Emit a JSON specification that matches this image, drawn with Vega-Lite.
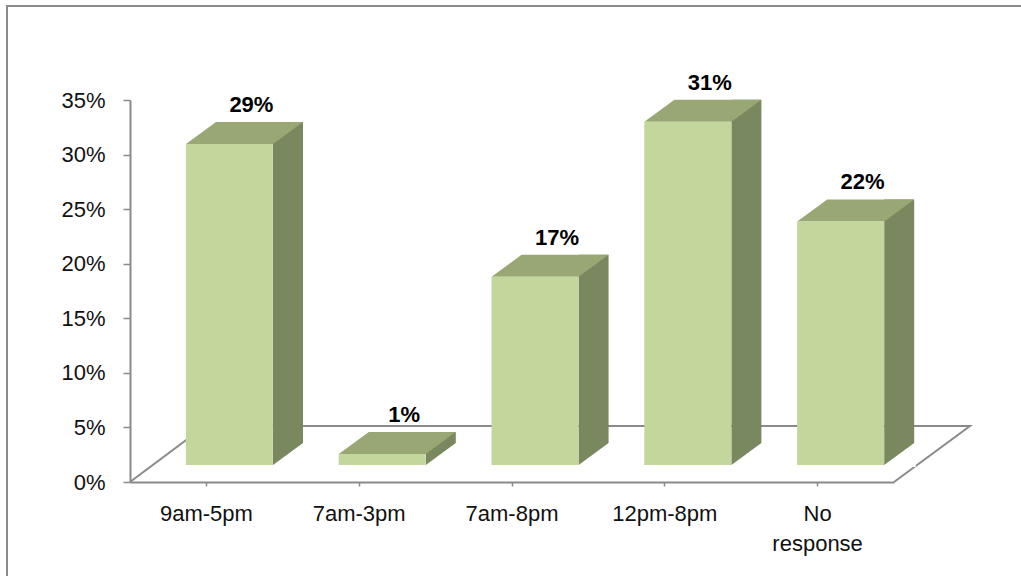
{
  "$schema": "https://vega.github.io/schema/vega-lite/v6.json",
  "width": 1021,
  "height": 576,
  "autosize": {"type": "none"},
  "padding": 0,
  "background": "white",
  "config": {
    "view": {"stroke": null},
    "font": "Liberation Sans"
  },
  "data": {
    "values": [
      {"slot": "9am-5pm", "share": 0.29},
      {"slot": "7am-3pm", "share": 0.01},
      {"slot": "7am-8pm", "share": 0.17},
      {"slot": "12pm-8pm", "share": 0.31},
      {"slot": "No response", "share": 0.22}
    ]
  },
  "encoding": {
    "x": {
      "field": "slot",
      "type": "nominal",
      "sort": null,
      "scale": {
        "domain": ["9am-5pm", "7am-3pm", "7am-8pm", "12pm-8pm", "No response"],
        "range": [130, 894],
        "paddingInner": 0.43,
        "paddingOuter": 0.215
      },
      "axis": {
        "title": null,
        "orient": "bottom",
        "offset": -94,
        "grid": false,
        "domainColor": "#8a8a8a",
        "domainWidth": 2,
        "tickColor": "#8a8a8a",
        "tickWidth": 1.5,
        "tickSize": 4,
        "bandPosition": 0.5,
        "labelAngle": 0,
        "labelFont": "Liberation Sans",
        "labelFontSize": 22,
        "labelColor": "#111111",
        "labelPadding": 17,
        "labelLineHeight": 30,
        "labelExpr": "datum.label === 'No response' ? ['No', 'response'] : datum.label"
      }
    }
  },
  "layer": [
    {
      "transform": [{"filter": "datum.slot === '9am-5pm'"}],
      "mark": {
        "type": "point",
        "shape": "M-199.4,100L-199.4,-476L820,-476M-76.4,0L-1.4,-56L763.6,-56L687.6,0",
        "size": 4,
        "filled": false,
        "stroke": "#8a8a8a",
        "strokeWidth": 2,
        "opacity": 1
      },
      "encoding": {
        "y": {
          "datum": 0,
          "type": "quantitative",
          "scale": {"domain": [0, 0.35], "range": [482, 100], "nice": false},
          "axis": {
            "title": null,
            "orient": "left",
            "offset": -130,
            "grid": false,
            "values": [0, 0.05, 0.1, 0.15, 0.2, 0.25, 0.3, 0.35],
            "format": ".0%",
            "domainColor": "#8a8a8a",
            "domainWidth": 2,
            "tickColor": "#8a8a8a",
            "tickWidth": 1.5,
            "tickSize": 7,
            "labelPadding": 18,
            "labelFont": "Liberation Sans",
            "labelFontSize": 22,
            "labelColor": "#111111"
          }
        }
      }
    },
    {
      "encoding": {
        "y": {
          "field": "share",
          "type": "quantitative",
          "scale": {"domain": [0, 0.345], "range": [482, 100], "nice": false},
          "axis": null
        }
      },
      "layer": [
        {
          "mark": {"type": "bar", "width": 30, "xOffset": 81.6, "yOffset": -39, "y2Offset": -17, "color": "#7a8860"},
          "encoding": {"y2": {"datum": 0}}
        },
        {
          "mark": {
            "type": "point",
            "shape": "M66.6,-17L96.6,-39L98,-39L98,-15L66.6,-15Z",
            "size": 4,
            "filled": true,
            "fill": "white",
            "strokeWidth": 0,
            "opacity": 1
          },
          "encoding": {"y": {"datum": 0, "type": "quantitative"}}
        },
        {
          "mark": {
            "type": "point",
            "shape": "M-20.4,-17L66.6,-17L96.6,-39L9.6,-39Z",
            "size": 4,
            "filled": true,
            "fill": "#98a773",
            "strokeWidth": 0,
            "opacity": 1
          }
        },
        {
          "mark": {"type": "bar", "width": 87, "xOffset": 23, "yOffset": -17, "y2Offset": -17, "color": "#c3d69b"},
          "encoding": {"y2": {"datum": 0}}
        },
        {
          "mark": {
            "type": "text",
            "xOffset": 45,
            "yOffset": -49,
            "baseline": "alphabetic",
            "font": "Liberation Sans",
            "fontSize": 22,
            "fontWeight": "bold",
            "color": "#000000"
          },
          "encoding": {"text": {"field": "share", "type": "quantitative", "format": ".0%"}}
        }
      ]
    }
  ],
  "resolve": {"scale": {"y": "independent"}}
}
